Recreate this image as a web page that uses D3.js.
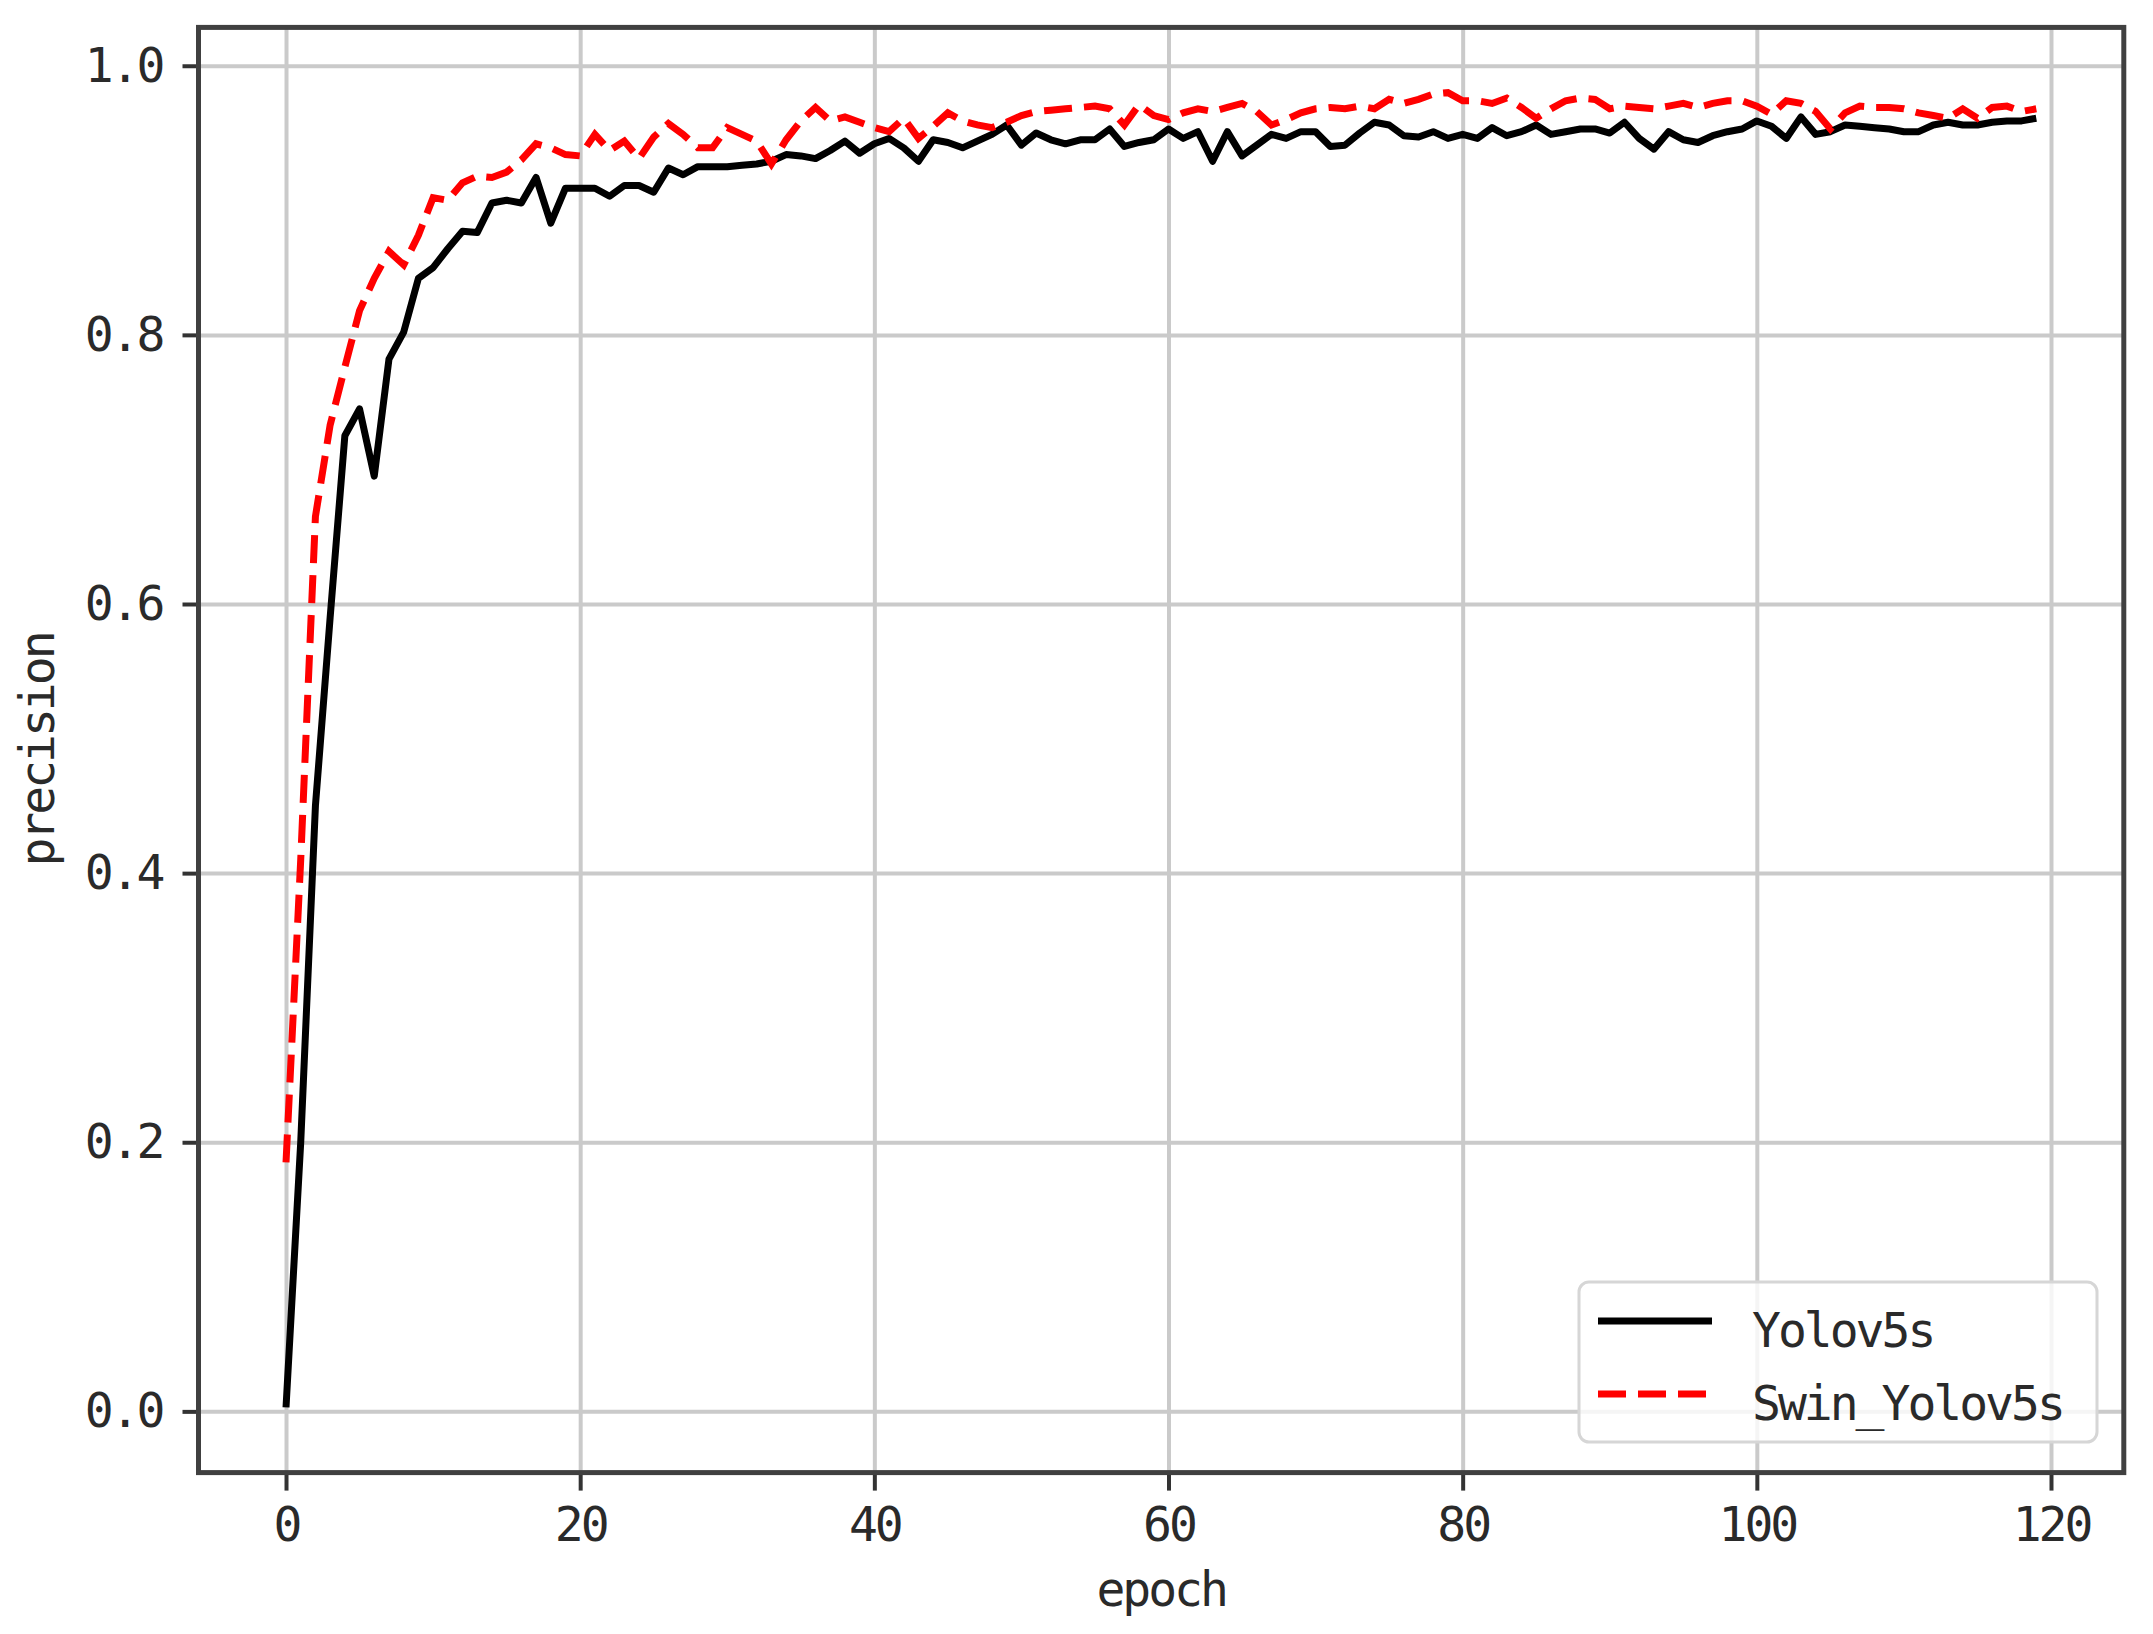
<!DOCTYPE html>
<html>
<head>
<meta charset="utf-8">
<script src="https://cdn.jsdelivr.net/npm/d3@7"></script>
<style>
  body { margin: 0; background: #fff; }
  text { font-family: "DejaVu Sans Mono", "Liberation Mono", monospace; }
</style>
</head>
<body>
<div id="chart"></div>
<script>
// precision per epoch
const yolov5s = [
  0.003, 0.20, 0.45, 0.59, 0.725, 0.745, 0.695, 0.782, 0.802, 0.842,
  0.850, 0.864, 0.877, 0.876, 0.898, 0.900, 0.898, 0.917, 0.883, 0.909,
  0.909, 0.909, 0.903, 0.911, 0.911, 0.906, 0.924, 0.919, 0.925, 0.925,
  0.925, 0.926, 0.927, 0.929, 0.934, 0.933, 0.931, 0.937, 0.944, 0.935,
  0.942, 0.946, 0.939, 0.929, 0.945, 0.943, 0.939, 0.944, 0.949, 0.956,
  0.941, 0.950, 0.945, 0.942, 0.945, 0.945, 0.953, 0.940, 0.943, 0.945,
  0.953, 0.946, 0.951, 0.929, 0.951, 0.933, 0.941, 0.949, 0.946, 0.951,
  0.951, 0.940, 0.941, 0.950, 0.958, 0.956, 0.948, 0.947, 0.951, 0.946,
  0.949, 0.946, 0.954, 0.948, 0.951, 0.956, 0.949, 0.951, 0.953, 0.953,
  0.950, 0.958, 0.946, 0.938, 0.951, 0.945, 0.943, 0.948, 0.951, 0.953,
  0.959, 0.955, 0.946, 0.962, 0.949, 0.951, 0.956, 0.955, 0.954, 0.953,
  0.951, 0.951, 0.956, 0.958, 0.956, 0.956, 0.958, 0.959, 0.959, 0.961
];
const swinYolov5s = [
  0.185, 0.41, 0.665, 0.733, 0.776, 0.818, 0.842, 0.862, 0.852, 0.874,
  0.902, 0.900, 0.913, 0.918, 0.917, 0.921, 0.930, 0.942, 0.939, 0.934,
  0.933, 0.949, 0.937, 0.944, 0.931, 0.947, 0.957, 0.949, 0.939, 0.939,
  0.954, 0.949, 0.944, 0.927, 0.945, 0.959, 0.969, 0.959, 0.962, 0.958,
  0.954, 0.951, 0.961, 0.946, 0.955, 0.965, 0.959, 0.956, 0.954, 0.958,
  0.963, 0.966, 0.967, 0.968, 0.969, 0.970, 0.968, 0.956, 0.971, 0.963,
  0.960, 0.965, 0.968, 0.966, 0.969, 0.972, 0.966, 0.956, 0.960, 0.965,
  0.968, 0.969, 0.968, 0.970, 0.968, 0.975, 0.972, 0.975, 0.979, 0.980,
  0.974, 0.974, 0.972, 0.976, 0.969, 0.961, 0.968, 0.974, 0.976, 0.975,
  0.968, 0.970, 0.969, 0.968, 0.970, 0.972, 0.969, 0.972, 0.974, 0.974,
  0.970, 0.964, 0.974, 0.972, 0.966, 0.953, 0.965, 0.970, 0.969, 0.969,
  0.968, 0.965, 0.963, 0.961, 0.968, 0.961, 0.969, 0.970, 0.966, 0.968
];
const seriesNames = ["Yolov5s", "Swin_Yolov5s"];
const xTicks = [0, 20, 40, 60, 80, 100, 120];
const yTicks = [0.0, 0.2, 0.4, 0.6, 0.8, 1.0];

const width = 2153, height = 1634;

const x = d3.scaleLinear().domain([-5.95, 124.95]).range([198.5, 2123.8]);
const y = d3.scaleLinear().domain([-0.0455, 1.0285]).range([1472.6, 27.4]);

const [plotLeft, plotRight] = x.range();
const [plotBottom, plotTop] = y.range();

const svg = d3.select("#chart").append("svg")
    .attr("width", width)
    .attr("height", height);

// grid
svg.append("g")
    .attr("transform", `translate(0,${plotBottom})`)
    .call(d3.axisBottom(x).tickValues(xTicks).tickSize(-(plotBottom - plotTop)).tickFormat(""))
    .call(g => g.select(".domain").remove())
    .call(g => g.selectAll("line").attr("stroke", "#cacaca").attr("stroke-width", 4));
svg.append("g")
    .attr("transform", `translate(${plotLeft},0)`)
    .call(d3.axisLeft(y).tickValues(yTicks).tickSize(-(plotRight - plotLeft)).tickFormat(""))
    .call(g => g.select(".domain").remove())
    .call(g => g.selectAll("line").attr("stroke", "#cacaca").attr("stroke-width", 4));

// lines
const line = d3.line().x((d, i) => x(i)).y(d => y(d));

svg.append("path")
    .datum(yolov5s)
    .attr("fill", "none")
    .attr("stroke", "#000")
    .attr("stroke-width", 7)
    .attr("stroke-linejoin", "round")
    .attr("d", line);

svg.append("path")
    .datum(swinYolov5s)
    .attr("fill", "none")
    .attr("stroke", "#ff0000")
    .attr("stroke-width", 7)
    .attr("stroke-dasharray", "28,12")
    .attr("d", line);

// axes
const xAxis = svg.append("g")
    .attr("transform", `translate(0,${plotBottom})`)
    .call(d3.axisBottom(x).tickValues(xTicks).tickSize(18).tickPadding(16).tickFormat(d3.format("d")));
const yAxis = svg.append("g")
    .attr("transform", `translate(${plotLeft},0)`)
    .call(d3.axisLeft(y).tickValues(yTicks).tickSize(16).tickPadding(20).tickFormat(d3.format(".1f")));

[xAxis, yAxis].forEach(g => {
  g.select(".domain").remove();
  g.selectAll(".tick line").attr("stroke", "#333").attr("stroke-width", 4);
  g.selectAll(".tick text")
    .attr("fill", "#2a2a2a")
    .style("font-size", "48px")
    .style("letter-spacing", "-3px");
});
xAxis.selectAll(".tick text").attr("dy", "0.71em");

// frame
svg.append("rect")
    .attr("x", plotLeft).attr("y", plotTop)
    .attr("width", plotRight - plotLeft).attr("height", plotBottom - plotTop)
    .attr("fill", "none")
    .attr("stroke", "#404040")
    .attr("stroke-width", 5);

// axis labels
svg.append("text")
    .attr("x", (plotLeft + plotRight) / 2)
    .attr("y", 1606)
    .attr("text-anchor", "middle")
    .attr("fill", "#2a2a2a")
    .style("font-size", "48px")
    .style("letter-spacing", "-3px")
    .text("epoch");

svg.append("text")
    .attr("transform", `translate(54,${(plotTop + plotBottom) / 2}) rotate(-90)`)
    .attr("text-anchor", "middle")
    .attr("fill", "#2a2a2a")
    .style("font-size", "48px")
    .style("letter-spacing", "-3px")
    .text("precision");

// legend
const legend = svg.append("g");
legend.append("rect")
    .attr("x", 1579).attr("y", 1282)
    .attr("width", 518).attr("height", 160)
    .attr("rx", 10)
    .attr("fill", "#fff").attr("fill-opacity", 0.8)
    .attr("stroke", "#d6d6d6").attr("stroke-width", 3);

const legendItems = [
  { name: seriesNames[0], color: "#000", dash: null, cy: 1321 },
  { name: seriesNames[1], color: "#ff0000", dash: "28,12", cy: 1394 }
];
legendItems.forEach(d => {
  legend.append("line")
      .attr("x1", 1598).attr("x2", 1712)
      .attr("y1", d.cy).attr("y2", d.cy)
      .attr("stroke", d.color)
      .attr("stroke-width", 7)
      .attr("stroke-dasharray", d.dash);
  legend.append("text")
      .attr("x", 1752)
      .attr("y", d.cy)
      .attr("dy", "0.55em")
      .attr("fill", "#2a2a2a")
      .style("font-size", "48px")
      .style("letter-spacing", "-3px")
      .text(d.name);
});
</script>
</body>
</html>
